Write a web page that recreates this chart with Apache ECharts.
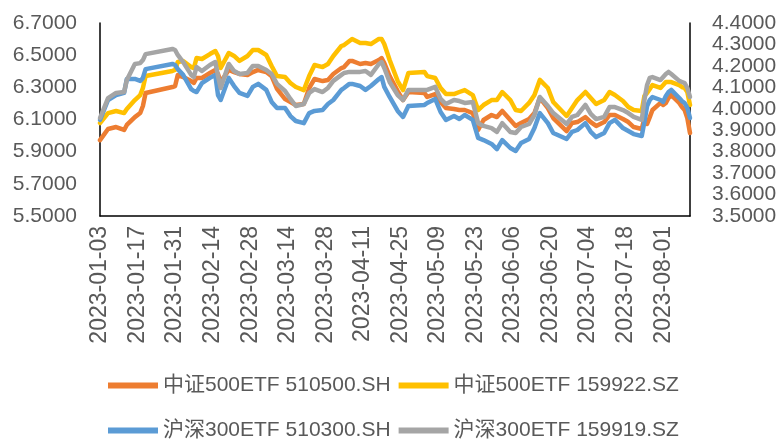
<!DOCTYPE html>
<html>
<head>
<meta charset="utf-8">
<script src="https://cdn.jsdelivr.net/npm/echarts@6/dist/echarts.min.js"></script>
<style>
  html, body { margin: 0; padding: 0; background: #fff; }
  #chart { width: 782px; height: 439px; }
</style>
</head>
<body>
<div id="chart"></div>
<script>
// 交易日(读图采样)
var tradeDates = [
  '2023-01-03','2023-01-06','2023-01-09','2023-01-12','2023-01-13','2023-01-16','2023-01-18','2023-01-19','2023-01-20','2023-01-30','2023-01-31',
  '2023-02-01','2023-02-03','2023-02-06','2023-02-07','2023-02-08','2023-02-10','2023-02-13','2023-02-15','2023-02-16','2023-02-17','2023-02-20','2023-02-22','2023-02-24','2023-02-27',
  '2023-03-01','2023-03-03','2023-03-06','2023-03-08','2023-03-10','2023-03-13','2023-03-15','2023-03-17','2023-03-20','2023-03-22','2023-03-24','2023-03-27','2023-03-29','2023-03-31',
  '2023-04-03','2023-04-04','2023-04-06','2023-04-07','2023-04-10','2023-04-12','2023-04-14','2023-04-17','2023-04-18','2023-04-19','2023-04-21','2023-04-24','2023-04-26','2023-04-28',
  '2023-05-04','2023-05-05','2023-05-08','2023-05-10','2023-05-12','2023-05-15','2023-05-17','2023-05-19','2023-05-22','2023-05-24','2023-05-26','2023-05-29','2023-05-31',
  '2023-06-02','2023-06-05','2023-06-07','2023-06-09','2023-06-12','2023-06-14','2023-06-16','2023-06-19','2023-06-21','2023-06-26','2023-06-28','2023-06-30',
  '2023-07-03','2023-07-05','2023-07-07','2023-07-10','2023-07-12','2023-07-14','2023-07-17','2023-07-19','2023-07-21','2023-07-24','2023-07-25','2023-07-26','2023-07-27','2023-07-28','2023-07-31',
  '2023-08-01','2023-08-02','2023-08-03','2023-08-04','2023-08-07','2023-08-08','2023-08-09','2023-08-10','2023-08-11'
];

// 中证500ETF 510500.SH (左轴)
var zz500_510500 = [
  5.972,6.041,6.053,6.035,6.066,6.115,6.140,6.184,6.265,6.302,6.308,
  6.377,6.364,6.339,6.327,6.358,6.358,6.389,6.408,6.383,6.333,6.408,6.395,6.383,6.377,
  6.395,6.408,6.395,6.370,6.290,6.227,6.209,6.190,6.196,6.296,6.352,6.339,6.346,6.383,
  6.420,6.426,6.464,6.464,6.445,6.451,6.445,6.470,6.482,6.451,6.370,6.277,6.221,6.271,
  6.265,6.240,6.258,6.209,6.171,6.165,6.159,6.159,6.140,6.035,6.097,6.128,6.115,
  6.153,6.097,6.060,6.078,6.103,6.140,6.234,6.171,6.109,6.028,6.078,6.084,
  6.115,6.084,6.060,6.084,6.128,6.128,6.103,6.084,6.053,6.041,6.109,6.072,6.115,6.159,6.203,
  6.190,6.203,6.234,6.252,6.203,6.178,6.159,6.109,6.016
];

// 中证500ETF 159922.SZ (左轴)
var zz500_159922 = [
  6.078,6.140,6.153,6.140,6.165,6.221,6.252,6.296,6.370,6.402,6.408,
  6.458,6.464,6.426,6.420,6.482,6.476,6.507,6.526,6.495,6.420,6.513,6.495,6.464,6.495,
  6.532,6.532,6.501,6.433,6.370,6.364,6.327,6.302,6.283,6.370,6.439,6.426,6.445,6.495,
  6.557,6.563,6.588,6.601,6.576,6.576,6.569,6.601,6.601,6.569,6.470,6.339,6.283,6.389,
  6.395,6.370,6.358,6.296,6.258,6.258,6.271,6.283,6.252,6.159,6.190,6.221,6.221,
  6.271,6.221,6.159,6.153,6.203,6.252,6.346,6.296,6.209,6.122,6.171,6.221,
  6.271,6.234,6.196,6.221,6.271,6.252,6.215,6.178,6.159,6.153,6.246,6.265,6.290,6.314,6.296,
  6.314,6.333,6.333,6.333,6.314,6.302,6.296,6.271,6.190
];

// 沪深300ETF 510300.SH (右轴)
var hs300_510300 = [
  3.948,4.041,4.064,4.074,4.139,4.139,4.130,4.144,4.185,4.209,4.204,
  4.185,4.158,4.092,4.083,4.078,4.120,4.144,4.158,4.064,4.041,4.144,4.106,4.074,4.060,
  4.102,4.116,4.088,4.032,4.004,4.004,3.966,3.943,3.933,3.980,3.990,3.994,4.022,4.041,
  4.088,4.097,4.116,4.116,4.106,4.088,4.106,4.139,4.148,4.102,4.055,3.990,3.962,4.013,
  4.018,4.027,4.046,3.985,3.948,3.966,3.952,3.971,3.948,3.864,3.854,3.836,3.812,
  3.854,3.817,3.803,3.840,3.859,3.910,3.980,3.933,3.887,3.859,3.892,3.901,
  3.933,3.892,3.868,3.887,3.933,3.948,3.910,3.896,3.882,3.873,3.938,4.013,4.041,4.055,4.041,
  4.032,4.060,4.078,4.088,4.050,4.036,4.027,4.004,3.957
];

// 沪深300ETF 159919.SZ (右轴)
var hs300_159919 = [
  3.957,4.050,4.074,4.078,4.134,4.209,4.213,4.227,4.255,4.279,4.274,
  4.251,4.218,4.158,4.148,4.195,4.176,4.204,4.218,4.153,4.097,4.209,4.176,4.162,4.167,
  4.200,4.200,4.181,4.162,4.116,4.083,4.046,4.013,4.022,4.074,4.092,4.078,4.097,4.130,
  4.158,4.167,4.172,4.172,4.172,4.176,4.158,4.209,4.218,4.190,4.125,4.064,4.041,4.088,
  4.088,4.088,4.102,4.046,4.022,4.041,4.036,4.027,4.032,3.933,3.920,3.910,3.892,
  3.933,3.892,3.887,3.915,3.929,3.971,4.055,4.013,3.980,3.929,3.962,3.971,
  4.018,3.976,3.952,3.962,4.008,4.008,3.994,3.980,3.962,3.948,4.041,4.111,4.144,4.148,4.134,
  4.148,4.162,4.172,4.162,4.130,4.125,4.120,4.097,4.055
];

var seriesNames = ['中证500ETF 510500.SH', '中证500ETF 159922.SZ', '沪深300ETF 510300.SH', '沪深300ETF 159919.SZ'];
var colors = ['#ED7D31', '#FFC000', '#5B9BD5', '#A5A5A5'];

// 日期轴: 每个自然日一个类目, 每14天一个标签
var startDay = '2023-01-03', endDay = '2023-08-11';
var allDays = [];
var t = new Date(startDay + 'T00:00:00Z');
var tEnd = new Date(endDay + 'T00:00:00Z');
while (t <= tEnd) {
  allDays.push(t.toISOString().slice(0, 10));
  t = new Date(t.getTime() + 86400000);
}

function pairs(vals) {
  return tradeDates.map(function (d, i) { return [d, vals[i]]; });
}

var fontFam = "'Liberation Sans', 'Noto Sans CJK SC', sans-serif";
var textColor = '#595959';

var chart = echarts.init(document.getElementById('chart'));

var lineSeries = [zz500_510500, zz500_159922, hs300_510300, hs300_159919].map(function (vals, i) {
  return {
    name: seriesNames[i],
    type: 'line',
    yAxisIndex: i < 2 ? 0 : 1,
    data: pairs(vals),
    showSymbol: false,
    symbol: 'none',
    smooth: false,
    lineStyle: { width: 4.5, color: colors[i], cap: 'round', join: 'round' },
    itemStyle: { color: colors[i] },
    animation: false
  };
});

var legendCommon = {
  icon: 'rect', itemWidth: 50, itemHeight: 6, itemGap: 8,
  textStyle: { fontSize: 21, color: textColor, fontFamily: fontFam }
};

var option = {
  color: colors,
  grid: { left: 100, right: 92, top: 23, bottom: 223, containLabel: false },
  legend: [
    Object.assign({ data: [seriesNames[0], seriesNames[1]], left: 103, top: 370 }, legendCommon),
    Object.assign({ data: [seriesNames[2], seriesNames[3]], left: 103, top: 415 }, legendCommon)
  ],
  xAxis: {
    type: 'category',
    data: allDays,
    boundaryGap: false,
    axisLine: { lineStyle: { color: '#000', width: 1.5 } },
    axisTick: { show: false },
    axisLabel: {
      interval: 13,
      rotate: 90,
      margin: 10,
      fontSize: 23,
      color: textColor,
      fontFamily: fontFam
    },
    splitLine: { show: false }
  },
  yAxis: [
    {
      type: 'value',
      min: 5.5, max: 6.7, interval: 0.2,
      axisLine: { show: true, lineStyle: { color: '#000', width: 1.5 } },
      axisTick: { show: false },
      splitLine: { show: false },
      axisLabel: {
        margin: 23, fontSize: 21, color: textColor, fontFamily: fontFam,
        formatter: function (v) { return v.toFixed(4); }
      }
    },
    {
      type: 'value',
      position: 'right',
      min: 3.5, max: 4.4, interval: 0.1,
      axisLine: { show: true, lineStyle: { color: '#000', width: 1.5 } },
      axisTick: { show: false },
      splitLine: { show: false },
      axisLabel: {
        margin: 22, fontSize: 21, color: textColor, fontFamily: fontFam,
        formatter: function (v) { return v.toFixed(4); }
      }
    }
  ],
  series: lineSeries
};

chart.setOption(option);
</script>
</body>
</html>
